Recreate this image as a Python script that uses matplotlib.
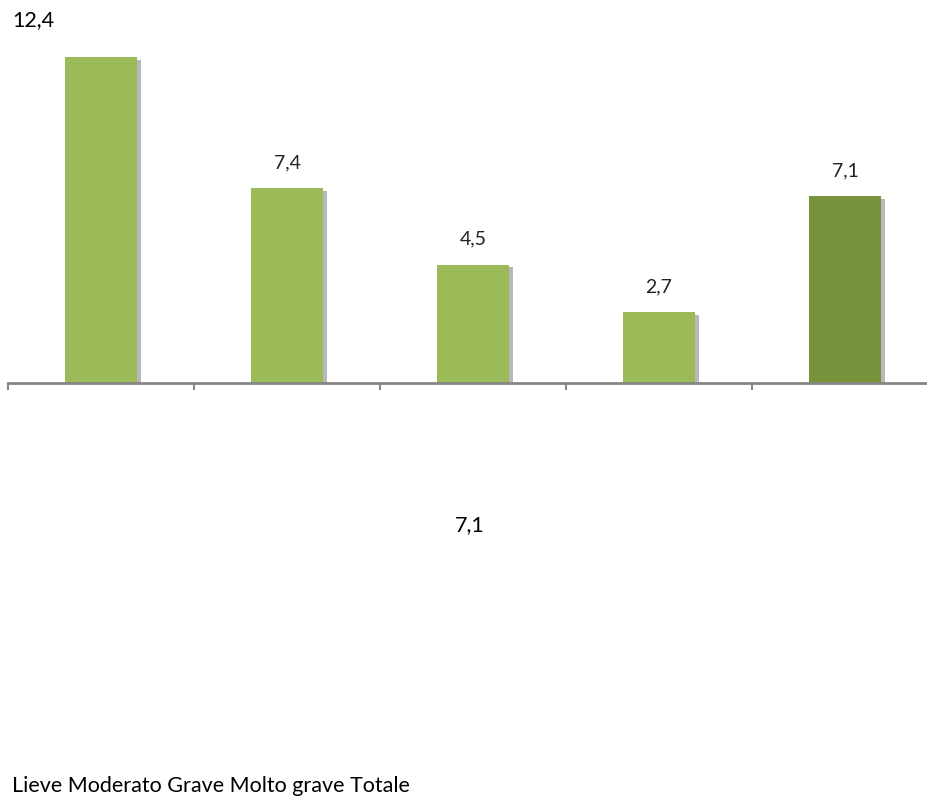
import matplotlib
matplotlib.use("Agg")
import matplotlib.pyplot as plt
import matplotlib.patheffects as pe

categories = ["Lieve", "Moderato", "Grave", "Molto grave", "Totale"]
values = [12.4, 7.4, 4.5, 2.7, 7.1]
colors = ["#9BBB59", "#9BBB59", "#9BBB59", "#9BBB59", "#77933C"]

def fmt(v):
    return f"{v:.1f}".replace(".", ",")

plt.rcParams['font.family'] = ['Lato', 'DejaVu Sans']

W, H = 927, 796
fig = plt.figure(figsize=(W / 100, H / 100), dpi=100)
# axes: x from 8px to 938px, baseline at y=383px, top at y=15px
ax = fig.add_axes([8 / W, 413 / H, 930 / W, 368 / H])
ax.set_xlim(-0.5, len(categories) - 0.5)
ax.set_ylim(0, 14)

x = list(range(len(categories)))
bars = ax.bar(x, values, width=0.39, color=colors, zorder=3)
for b in bars:
    b.set_path_effects([pe.SimplePatchShadow(offset=(3, -2), shadow_rgbFace="#7f7f7f", alpha=0.55),
                        pe.Normal()])

# value labels above bars (first one displaced to top-left as in reference)
for i, v in enumerate(values):
    if i == 0:
        continue
    ax.text(i, v + 0.65, fmt(v), ha="center", va="bottom", fontsize=14, color="#222222")

fig.text(12 / W, 1 - 20 / H, fmt(values[0]), ha="left", va="center", fontsize=15.5, color="black")
fig.text(470 / W, 1 - 525 / H, fmt(values[-1]), ha="center", va="center", fontsize=15.5, color="black")
fig.text(12 / W, 1 - 786 / H, " ".join(categories), ha="left", va="center", fontsize=15.5, color="black")

for s in ["top", "right", "left"]:
    ax.spines[s].set_visible(False)
ax.spines["bottom"].set_color("#868686")
ax.spines["bottom"].set_linewidth(2)
ax.spines["bottom"].set_zorder(4)
ax.set_yticks([])
ax.set_xticks([i - 0.5 for i in range(len(categories) + 1)])
ax.set_xticklabels([])
ax.tick_params(axis="x", direction="out", length=5, width=1.5, color="#868686")

fig.savefig("out.png", dpi=100, facecolor="white")
